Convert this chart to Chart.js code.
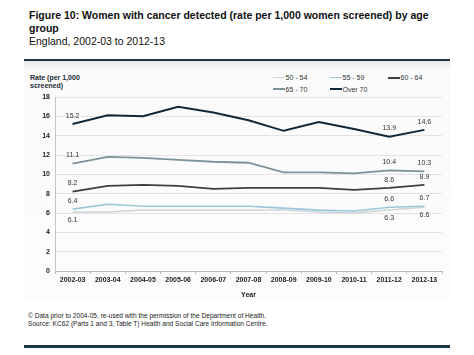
<!DOCTYPE html>
<html><head><meta charset="utf-8">
<script src="https://cdn.jsdelivr.net/npm/chart.js@4"></script>
<style>
body{margin:0;background:#fff;width:474px;height:355px;position:relative;overflow:hidden;font-family:"Liberation Sans",Arial,Helvetica,sans-serif;}
.abs{position:absolute;white-space:nowrap}
#title{left:29px;top:9px;font-size:10.5px;line-height:12.5px;font-weight:bold;color:#111}
#sub{left:29px;top:34.6px;font-size:10.5px;line-height:12.5px;color:#111}
#rule1{left:24px;top:59px;width:426px;height:2px;background:#1d3444}
#panel{left:24px;top:61px;width:426px;height:240px;background:linear-gradient(#e9e9e9 0px,#f3f3f3 6px,#fbfbfb 10px,#fcfcfc 100%)}
#ytitle{left:30px;top:73.6px;font-size:7px;line-height:8px;font-weight:bold;color:#1b2a35}
#foot{left:28px;top:311.5px;font-size:6.6px;line-height:8px;color:#222}
#rule2{left:24px;top:344.5px;width:426px;height:3px;background:#1d3444}
#legend{left:273px;top:72px;width:180px;font-size:7px;color:#333}
.li{position:absolute;display:flex;align-items:center;height:11px}
.li span.ln{display:inline-block;width:12px;margin-right:0.5px}
canvas{position:absolute;left:24px;top:62px}
</style></head>
<body>
<div id="panel" class="abs"></div>
<div id="title" class="abs">Figure 10: Women with cancer detected (rate per 1,000 women screened) by age<br>group</div>
<div id="sub" class="abs">England, 2002-03 to 2012-13</div>
<div id="rule1" class="abs"></div>
<div id="ytitle" class="abs">Rate (per 1,000<br>screened)</div>
<div id="legend" class="abs"></div>
<canvas id="c" width="426" height="241"></canvas>
<div id="foot" class="abs">© Data prior to 2004-05, re-used with the permission of the Department of Health.<br>Source: KC62 (Parts 1 and 3, Table T) Health and Social Care Information Centre.</div>
<div id="rule2" class="abs"></div>
<script>
const categories = ["2002-03","2003-04","2004-05","2005-06","2006-07","2007-08","2008-09","2009-10","2010-11","2011-12","2012-13"];
const seriesNames = ["50 - 54","55 - 59","60 - 64","65 - 70","Over 70"];
const age50to54 = [6.1, 6.1, 6.3, 6.3, 6.3, 6.3, 6.3, 6.1, 6.0, 6.3, 6.6];
const age55to59 = [6.4, 6.9, 6.7, 6.7, 6.7, 6.7, 6.5, 6.3, 6.2, 6.6, 6.7];
const age60to64 = [8.2, 8.8, 8.9, 8.8, 8.5, 8.6, 8.6, 8.6, 8.4, 8.6, 8.9];
const age65to70 = [11.1, 11.8, 11.7, 11.5, 11.3, 11.2, 10.2, 10.2, 10.1, 10.4, 10.3];
const over70    = [15.2, 16.1, 16.0, 17.0, 16.4, 15.6, 14.5, 15.4, 14.7, 13.9, 14.6];
const yTicks = [0,2,4,6,8,10,12,14,16,18];
const labelledPoints = [0, 9, 10];

const values = [age50to54, age55to59, age60to64, age65to70, over70];
const colors = ["#cdd5d9", "#9cc6da", "#3c3e41", "#7d929b", "#11283b"];
const widths = [1.5, 1.6, 1.8, 1.8, 2];
const labelBelow = [true, false, false, false, false];

// legend
const legendPos = [[0,0],[57,0],[115,0],[0,11.6],[57,11.6]];
const lg = document.getElementById('legend');
seriesNames.forEach((n,i)=>{
  const d = document.createElement('div');
  d.className='li';
  d.style.left = legendPos[i][0]+'px';
  d.style.top = legendPos[i][1]+'px';
  const ln = document.createElement('span');
  ln.className='ln';
  ln.style.height = (i>=2?2:1.5)+'px';
  ln.style.background = colors[i];
  d.appendChild(ln);
  const t = document.createElement('span');
  t.textContent = n;
  d.appendChild(t);
  lg.appendChild(d);
});

const pointLabels = {
  id:'pointLabels',
  afterDatasetsDraw(chart){
    const ctx = chart.ctx;
    ctx.save();
    ctx.font = '7px "Liberation Sans", Arial, sans-serif';
    ctx.fillStyle = '#333';
    ctx.textAlign = 'center';
    ctx.textBaseline = 'middle';
    chart.data.datasets.forEach((ds, di)=>{
      const meta = chart.getDatasetMeta(di);
      labelledPoints.forEach(idx=>{
        const p = meta.data[idx];
        const v = ds.data[idx];
        const dy = labelBelow[di] ? 8 : -8.3;
        ctx.fillText(v.toFixed(1), p.x, p.y + dy);
      });
    });
    ctx.restore();
  }
};

new Chart(document.getElementById('c'), {
  type:'line',
  data:{
    labels: categories,
    datasets: values.map((v,i)=>({
      label: seriesNames[i],
      data: v,
      borderColor: colors[i],
      backgroundColor: colors[i],
      borderWidth: widths[i],
      pointRadius: 0,
      tension: 0,
      fill: false
    }))
  },
  options:{
    responsive:false,
    animation:false,
    layout:{padding:{top:35,right:8,left:0,bottom:0}},
    plugins:{legend:{display:false},tooltip:{enabled:false}},
    scales:{
      x:{
        offset:true,
        grid:{display:true,drawOnChartArea:false,drawTicks:true,tickLength:3,color:'#b8b8b8',offset:true},
        border:{color:'#b8b8b8',width:1},
        ticks:{padding:2,maxRotation:0,autoSkip:false,color:'#222',font:{family:'"Liberation Sans", Arial, sans-serif',size:7,weight:'bold'}},
        title:{display:true,text:'Year',color:'#222',padding:{top:4,bottom:4},font:{family:'"Liberation Sans", Arial, sans-serif',size:7,weight:'bold'}},
        afterFit(s){ s.height = 32; }
      },
      y:{
        min:0,max:18,
        afterBuildTicks(s){ s.ticks = yTicks.map(v=>({value:v})); },
        grid:{color:'#e4e4e4',drawTicks:false,lineWidth:1},
        border:{color:'#c4c4c4',width:1},
        ticks:{padding:5,color:'#222',font:{family:'"Liberation Sans", Arial, sans-serif',size:7,weight:'bold'}},
        afterFit(s){ s.width = 31; }
      }
    }
  },
  plugins:[pointLabels]
});
</script>
</body></html>
